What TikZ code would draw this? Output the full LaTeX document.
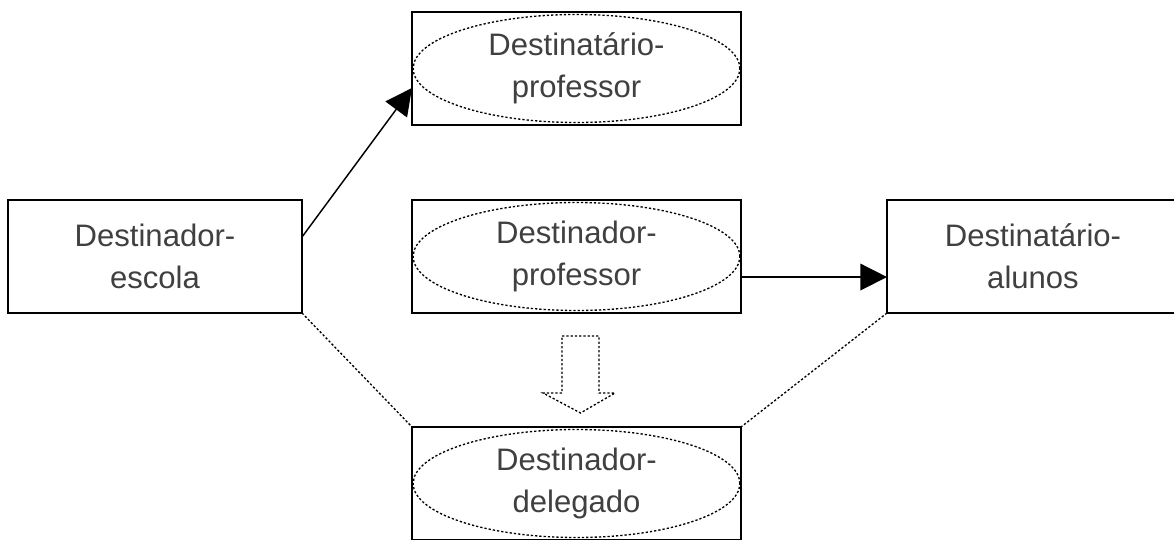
\documentclass[tikz,border=0pt]{standalone}
\usepackage{fontspec}
\setmainfont{Liberation Sans}
\usetikzlibrary{arrows.meta,shapes.geometric,calc}
\definecolor{txt}{HTML}{404040}
\tikzset{
  box/.style={draw=black, line width=1.2pt, rectangle, inner sep=0pt, outer sep=0pt,
    align=center, text=txt, font=\fontsize{23.3}{31.5}\selectfont},
  oval/.style={draw=black, ellipse, line width=1pt, dash pattern=on 1.7pt off 1.5pt,
    inner sep=0pt, outer sep=0pt, minimum width=245pt, minimum height=81pt},
  dotline/.style={line width=1pt, dash pattern=on 1.7pt off 1.5pt},
  conn/.style={line width=1.1pt, -{Triangle[length=20pt,width=20pt]}}
}
\begin{document}
\begin{tikzpicture}[x=0.75pt,y=-0.75pt]
\useasboundingbox (0,0) rectangle (1174,539);
% ellipses
\node[oval] (e1) at (576.5,68.5) {};
\node[oval] (e2) at (576.5,256.5) {};
\node[oval] (e3) at (576.5,483.5) {};
% boxes
\node[box, minimum width=220.5pt, minimum height=84.75pt] (esc) at (155,256.5) {Destinador-\\escola};
\node[box, minimum width=246.75pt, minimum height=84.75pt] (tprof) at (576.5,68.5) {Destinatário-\\professor};
\node[box, minimum width=246.75pt, minimum height=84.75pt] (dprof) at (576.5,256.5) {Destinador-\\professor};
\node[box, minimum width=219pt, minimum height=84.75pt] (alun) at (1033,256.5) {Destinatário-\\alunos};
\node[box, minimum width=246.75pt, minimum height=84.75pt] (deleg) at (576.5,483.5) {Destinador-\\delegado};
% arrows
\draw[conn] ([yshift=14.6pt]esc.east) -- ([yshift=-14.6pt]tprof.west);
\draw[conn] ([yshift=-15.4pt]dprof.east) -- ([yshift=-15.4pt]alun.west);
% dotted connectors
\draw[dotline] (esc.south east) -- (deleg.north west);
\draw[dotline] (alun.south west) -- (deleg.north east);
% hollow dashed block arrow
\coordinate (tip) at (580.5,413);
\draw[dotline, line join=miter] (562,336) -- (599,336) -- (599,393) -- (615,393) -- (tip) -- (543,393) -- (562,393) -- cycle;
\end{tikzpicture}
\end{document}
